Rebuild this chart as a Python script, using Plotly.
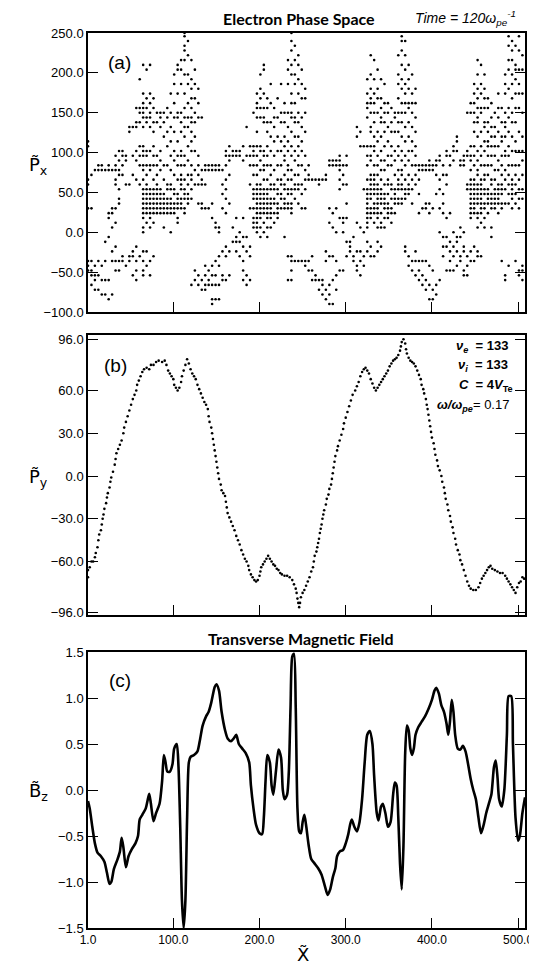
import plotly.graph_objects as go

# ---------------- Panel (a): electron phase space (x, P_x) ----------------
a_cols_x = [1, 5, 9, 13, 17, 21, 25, 29, 33, 37, 41, 45, 49, 53, 57, 61,
            65, 69, 73, 77, 81, 85, 89, 93, 97, 101, 105, 109, 113, 117, 121, 125, 129,
            133, 137, 141, 145, 149, 153, 157, 161, 165, 169, 173, 177, 181, 185, 189,
            193, 197, 201, 205, 209, 213, 217, 221, 225, 229, 233, 237, 241, 245, 249, 253,
            257, 261, 265, 269, 273, 277, 281, 285, 289, 293, 297, 301, 305, 309, 313, 317, 321,
            325, 329, 333, 337, 341, 345, 349, 353, 357, 361, 365, 369, 373, 377, 381,
            385, 389, 393, 397, 401, 405, 409, 413, 417, 421, 425, 429, 433, 437, 441,
            445, 449, 453, 457, 461, 465, 469, 473, 477, 481, 485, 489, 493, 497, 501, 505]
a_cols_y = [
    [114, 108, 66, 60, 30, -36, -42, -48],
    [72, 30, -36, -48, -54, -66],
    [78, -42, -54, -60, -72],
    [84, 78, -36, -54, -72],
    [84, 78, -42, -60, -78],
    [78, -12, -36, -60, -78],
    [84, 78, 24, 18, -6, -60, -84],
    [78, 30, 24, 6, -24, -36, -78],
    [96, 84, 78, 66, 60, 30, 12, -18, -36, -48],
    [102, 90, 78, 72, 54, 42, 36, -36, -48],
    [96, 102, 84, 72, -30, -36],
    [96, 90, 60, -42],
    [132, 126, 60, -36, -30],
    [132, 96, 72, -30, -24, -54],
    [156, 138, 132, 102, 90, 66, -18, -36, -48, -60],
    [192, 156, 150, 138, 108, 96, 84, 60, -30],
    [210, 174, 162, 156, 150, 144, 132, 108, 102, 96, 84, 78, 66, 54, 48, 42, 36, 30, 24, 18, 6, 0, -24, -36, -48, -54],
    [204, 168, 156, 144, 138, 102, 96, 84, 72, 60, 54, 48, 42, 36, 30, 24, 12, -24, -42],
    [210, 174, 162, 150, 144, 132, 102, 84, 78, 54, 48, 42, 36, 30, 24, 18, 6, -36, -54],
    [168, 156, 138, 126, 108, 96, 84, 66, 54, 48, 42, 36, 30, 24, 12, -30],
    [150, 138, 96, 84, 72, 60, 54, 48, 42, 36, 30, 24],
    [150, 144, 132, 102, 90, 78, 54, 48, 42, 36, 30, 24],
    [150, 138, 120, 84, 66, 48, 42, 36, 30, 24, 6],
    [156, 144, 126, 108, 84, 60, 54, 42, 36, 30, 24],
    [174, 150, 132, 114, 96, 78, 60, 54, 42, 36, 30, 24, 0],
    [198, 186, 162, 144, 126, 102, 90, 72, 54, 48, 36, 30, 24],
    [210, 204, 174, 150, 144, 114, 96, 84, 66, 48, 42, 36, 30, 18, 12],
    [216, 204, 186, 150, 138, 126, 102, 96, 84, 72, 66, 60, 54, 42, 36, 30],
    [250, 246, 234, 228, 216, 198, 174, 156, 144, 132, 120, 96, 84, 66, 54, 48, 42, 30, 24],
    [240, 222, 198, 186, 162, 144, 132, 108, 90, 72, 60, 48, 42, 36],
    [216, 192, 180, 168, 156, 144, 138, 126, 114, 102, 84, 72, 66, 54, 42, -66],
    [204, 186, 168, 150, 138, 120, 102, 78, 60, -60, -48],
    [180, 162, 144, 96, 84, 72, 60, 36, -54, -66],
    [144, 78, 66, 60, 36, 30, -60, -72],
    [84, 78, 60, 30, -42, -54, -66, -72],
    [84, 78, 30, -48, -60, -66],
    [84, 78, 36, 18, -42, -54, -66, -84, -90],
    [84, 78, 12, 6, -36, -54, -66, -84],
    [84, 78, 6, 0, -30, -42, -66, -84],
    [78, 60, 48, 30, -24, -54, -60],
    [102, 96, 84, 66, 54, 42, 24, -18, -30, -60],
    [108, 96, 90, 72, 36, -24, -54],
    [102, 96, 6, -12],
    [102, 96, 18, -6, -12, -24],
    [102, 96, 0, -12, -30],
    [108, 90, 18, -6, -18, -36, -48, -60],
    [132, 96, -6, -24, -54, -66],
    [108, 96, 84, 60, 30, -18, -30, -60],
    [150, 108, 102, 96, 84, 72, 54, 48, 42, 30, 18, 12, 6],
    [174, 162, 156, 144, 126, 108, 96, 84, 72, 60, 54, 48, 42, 36, 30, 24, 18, 12, 6, 0],
    [198, 180, 168, 156, 144, 108, 102, 90, 78, 60, 54, 48, 42, 36, 30, 24, 18, 6, -6],
    [210, 204, 174, 156, 144, 138, 102, 96, 84, 78, 66, 54, 48, 42, 36, 30, 24, 12, 0],
    [168, 156, 138, 126, 108, 96, 84, 66, 54, 48, 42, 36, 30, 24, 18, 6, -6],
    [186, 162, 138, 120, 102, 84, 72, 60, 54, 42, 36, 30, 24, 18, 6],
    [156, 144, 132, 114, 96, 78, 60, 54, 42, 36, 24, 12],
    [168, 144, 120, 102, 84, 66, 54, 48, 36, 30, 24, 18],
    [186, 150, 138, 114, 102, 84, 66, 60, 48, 42, 30],
    [162, 150, 138, 120, 108, 96, 90, 72, 60, 54, 42, 36, 30, -6],
    [216, 204, 186, 150, 132, 114, 102, 84, 78, 66, 54, 48, 36, 30, -30, -60],
    [250, 240, 228, 210, 198, 174, 162, 150, 144, 126, 108, 96, 78, 66, 54, 48, 36, 30, 24, -30, -36, -48, -60],
    [234, 216, 198, 186, 162, 144, 138, 120, 102, 90, 72, 60, 54, 42, -36],
    [222, 210, 192, 174, 150, 138, 120, 108, 96, 84, 72, 60, 54, 36, -36],
    [204, 186, 168, 144, 132, 114, 102, 84, 60, 48, 30, -36],
    [180, 168, 150, 126, 96, 78, 66, 54, 30, -36, -42],
    [84, 72, 66, -36, -48],
    [66, -30, -48, -60],
    [66, -54, -60],
    [66, 60, -60, -72],
    [66, -60, -66, -78],
    [72, 66, -24, -36, -72, -84],
    [90, 84, 30, 12, -30, -66, -78, -90],
    [90, 84, 24, 6, -30, -60, -90],
    [90, 84, 30, 0, -36, -54, -72],
    [96, 90, 84, 78, 66, 54, 18, -48],
    [84, 72, 60, 18, 12, 0, -48],
    [96, 84, 60, 36, 18, -12, -30],
    [-12, -18, -24],
    [-6, -30, -36],
    [132, 120, 12, -24, -42, -48],
    [126, 108, 6, -24, -36, -54],
    [108, 54, 0, -30, -42],
    [192, 174, 162, 156, 144, 108, 96, 84, 66, 54, 48, 42, 36, 30, 24, 18, 12, 6, -12, -24],
    [222, 198, 180, 168, 162, 150, 132, 126, 108, 96, 90, 72, 66, 60, 54, 48, 42, 30, 24, 18, -18, -30],
    [216, 192, 174, 162, 150, 138, 120, 108, 102, 84, 72, 66, 60, 54, 48, 36, 30, 24, 12, -30],
    [204, 180, 168, 150, 126, 114, 96, 84, 72, 60, 54, 48, 42, 36, 30, 24, 18, 6, -12, -24],
    [192, 168, 156, 144, 138, 120, 102, 90, 78, 66, 54, 48, 42, 36, 24, 12, 6, -18],
    [186, 162, 150, 138, 126, 108, 90, 78, 60, 48, 42, 36, 30, 18, 6],
    [162, 150, 132, 114, 96, 84, 66, 60, 48, 36, 30, 24, 18],
    [156, 138, 126, 108, 96, 84, 60, 54, 42, 30, 24, 12],
    [150, 144, 126, 102, 90, 72, 54, 48, 42, 36, 24],
    [222, 198, 186, 168, 150, 138, 126, 108, 96, 78, 66, 60, 54, 42, 36],
    [246, 240, 228, 210, 192, 180, 162, 150, 138, 120, 102, 90, 78, 72, 60, 54, 42, 36],
    [240, 222, 204, 186, 174, 162, 150, 132, 114, 96, 84, 66, 54, 48, 42, -18, -24],
    [210, 192, 180, 162, 156, 138, 120, 102, 90, 72, 60, 54, 48, -30, -42],
    [198, 174, 162, 150, 132, 114, 102, 84, 66, 54, 36, -36, -48],
    [180, 162, 144, 126, 108, 96, 84, 72, 60, -24, -36, -54],
    [84, 78, 66, 48, 24, -36, -48, -60],
    [84, 78, 30, -36, -54, -66],
    [84, 78, 36, 30, -36, -60, -72],
    [90, 84, 78, 36, 24, -42, -66, -84],
    [84, 78, 30, -48, -72, -84],
    [90, 84, 72, 48, -66, -78],
    [96, 90, 66, 54, 30, 0, -60],
    [84, 72, 48, 36, 24, -6, -18, -30],
    [102, 96, 72, 60, 18, -6, -18, -48],
    [96, 84, 24, -12, -24, -36, -48],
    [108, 102, 90, 0, -18, -30, -48],
    [120, 114, 102, -6, -12, -24, -42],
    [90, 84, 6, -6, -30, -36],
    [96, 90, 84, 0, -18, -24, -48, -54],
    [150, 102, 96, 60, 54, -30, -42, -54],
    [162, 150, 108, 96, 90, 78, 66, 60, 54, 48, 42, 36, 30, 24, 18, -24, -36],
    [186, 174, 162, 150, 138, 126, 108, 96, 84, 66, 60, 54, 48, 42, 36, 30, 24, -18, -36],
    [216, 198, 180, 168, 156, 144, 138, 120, 102, 90, 78, 72, 60, 54, 48, 42, 36, 24, 18, 6, -24, -30],
    [210, 186, 174, 156, 150, 126, 108, 96, 84, 66, 60, 54, 48, 42, 36, 30, 24, 12, -30],
    [198, 180, 168, 156, 138, 132, 114, 102, 84, 72, 66, 54, 48, 36, 30, 18, 6],
    [168, 156, 138, 126, 114, 108, 96, 84, 72, 54, 48, 42, 36, 24],
    [162, 144, 132, 120, 108, 96, 84, 66, 60, 48, 42, 36, 30, 6, -6],
    [150, 132, 120, 108, 96, 78, 66, 54, 48, 42, 36, 30],
    [174, 156, 144, 126, 108, 90, 78, 60, 54, 48, 42, 36, 24],
    [156, 138, 120, 114, 96, 84, 72, 60, 54, 48, 36, 30, -36],
    [198, 186, 174, 150, 138, 132, 120, 102, 96, 78, 66, 54, 36, -54, -60],
    [246, 234, 216, 204, 180, 156, 144, 126, 108, 96, 84, 72, 60, 48, 36, -42],
    [240, 228, 216, 198, 186, 168, 150, 138, 120, 102, 84, 66, 60, 54, 48, 42, 30],
    [234, 210, 204, 192, 174, 156, 138, 114, 102, 84, 72, 60, 48, 36, -36],
    [246, 228, 204, 186, 174, 156, 126, 102, 84, 66, 54, 42, 30, -48, -54],
    [222, 204, 174, 150, 120, 102, 90, 72, 54, 42, -42, -48, -60],
]

# ---------------- Panel (b): P_y ----------------
b_x = [1, 1, 3, 5, 7, 9, 10, 12, 13, 14, 16, 17, 18, 19, 20, 22, 23, 24, 26, 27, 28,
       30, 32, 33, 34, 36, 38, 40, 42, 43, 45, 47, 49, 51, 53, 55, 57, 58, 60, 62, 64,
       66, 69, 72, 74, 77, 80, 83, 87, 90, 92, 94, 96, 98, 100, 101, 103, 105, 107, 109, 110,
       112, 114, 116, 118, 120, 122, 124, 126, 128, 130, 132, 134, 136, 138, 140, 141, 142, 144,
       145, 146, 147, 148, 149, 150, 151, 152, 153, 155, 156, 158, 160, 161, 162, 163, 165, 167,
       169, 171, 173, 175, 177, 179, 181, 183, 185, 187, 188, 190, 192, 194, 196, 198, 200, 201,
       202, 204, 206, 208, 210, 212, 214, 216, 218, 220, 222, 224, 226, 229, 232, 235, 238, 240,
       242, 243, 244, 245, 246, 247, 248, 250, 252, 254, 256, 258, 260, 262, 263, 264, 266, 267,
       268, 269, 270, 271, 272, 273, 274, 275, 277, 278, 280, 281, 283, 284, 285, 286, 287, 288,
       290, 291, 293, 295, 297, 298, 300, 302, 304, 306, 308, 311, 313, 315, 317, 319, 321, 323,
       325, 327, 329, 331, 333, 335, 337, 339, 341, 343, 345, 347, 349, 351, 353, 355, 357, 359,
       361, 363, 364, 365, 367, 369, 370, 371, 373, 375, 377, 379, 381, 383, 385, 387, 388, 390,
       391, 393, 394, 395, 396, 397, 398, 399, 400, 402, 403, 404, 406, 407, 409, 411, 412, 414,
       415, 416, 418, 419, 421, 422, 424, 425, 427, 428, 430, 432, 433, 435, 437, 439, 441, 443,
       445, 448, 451, 454, 456, 458, 460, 462, 464, 466, 468, 470, 473, 476, 479, 482, 485, 487,
       489, 491, 493, 495, 497, 499, 501, 503, 505, 507]
b_y = [-71, -66, -64, -60, -60, -57, -54, -50, -45, -41, -38, -34, -30, -27, -23, -19, -15, -12, -8, -4, -1,
       3, 8, 12, 16, 19, 22, 25, 30, 34, 38, 42, 46, 50, 54, 57, 60, 64, 67, 70, 73,
       75, 76, 75, 78, 78, 80, 81, 80, 81, 78, 74, 72, 70, 68, 64, 62, 60, 62, 66, 70,
       74, 78, 82, 79, 75, 72, 70, 68, 64, 61, 58, 55, 52, 50, 47, 42, 38, 34,
       30, 26, 22, 18, 14, 10, 6, 2, -2, -6, -10, -12, -14, -18, -22, -26, -29, -32,
       -35, -38, -42, -45, -48, -52, -55, -58, -60, -63, -66, -69, -71, -73, -74, -73, -70, -67,
       -64, -62, -60, -58, -56, -58, -60, -62, -63, -65, -66, -68, -69, -70, -70, -71, -73, -76,
       -79, -82, -86, -89, -92, -89, -85, -82, -80, -77, -74, -71, -67, -64, -60, -56, -53, -50,
       -47, -44, -40, -37, -34, -30, -27, -24, -20, -16, -13, -9, -6, -2, 2, 6, 10, 14,
       18, 21, 25, 29, 33, 37, 41, 45, 49, 53, 57, 60, 63, 66, 70, 73, 75, 76,
       74, 72, 68, 65, 62, 60, 62, 64, 66, 68, 70, 72, 74, 77, 79, 81, 82, 83,
       85, 88, 91, 94, 96, 93, 89, 86, 83, 81, 80, 79, 77, 74, 71, 68, 64, 61,
       58, 54, 50, 47, 43, 39, 35, 31, 27, 23, 19, 15, 11, 7, 4, 0, -4, -8,
       -12, -16, -20, -24, -28, -32, -36, -40, -44, -48, -52, -55, -59, -62, -66, -70, -74, -77,
       -79, -80, -80, -78, -75, -72, -70, -68, -66, -64, -63, -65, -66, -67, -68, -68, -70, -72,
       -74, -76, -78, -80, -82, -78, -75, -74, -71, -72]

# ---------------- Panel (c): B_z ----------------
c_x = [1, 3, 6, 9, 12, 16, 20, 23, 26, 28, 31, 35, 38, 40, 42, 45, 48, 52, 56, 59, 61, 64, 68, 70,
       72, 74, 77, 80, 84, 87, 89, 91, 93, 96, 99, 101, 104, 106, 108, 110, 112, 114, 116, 118,
       120, 124, 128, 131, 134, 138, 141, 144, 148, 150, 153, 156, 160, 163, 167, 170, 173, 176,
       180, 184, 188, 190, 193, 196, 200, 203, 205, 207, 209, 212, 214, 216, 219, 222, 225, 227,
       229, 232, 234, 236, 238, 240, 242, 244, 246, 248, 250, 252, 254, 257, 260, 264, 268, 272,
       276, 279, 282, 285, 288, 290, 293, 297, 300, 303, 305, 307, 310, 313, 316, 319, 322, 325,
       328, 331, 333, 336, 338, 341, 343, 346, 349, 352, 355, 357, 359, 361, 363, 365, 367, 369,
       371, 373, 375, 377, 379, 381, 384, 388, 392, 396, 400, 403, 405, 408, 411, 414, 417, 419,
       421, 423, 425, 427, 430, 433, 436, 439, 442, 445, 448, 451, 454, 457, 460, 463, 466, 469,
       472, 474, 476, 478, 481, 484, 487, 489, 492, 494, 497, 500, 502, 505, 508]
c_y = [-0.12, -0.2, -0.4, -0.58, -0.68, -0.72, -0.78, -0.9, -1.02, -1.0, -0.86, -0.76, -0.67, -0.52,
       -0.62, -0.84, -0.72, -0.64, -0.58, -0.5, -0.32, -0.27, -0.2, -0.12, -0.04, -0.15, -0.34, -0.25,
       -0.15, 0.1, 0.38, 0.3, 0.2, 0.2, 0.28, 0.45, 0.5, 0.25, -0.4, -1.2, -1.5, -1.2, -0.3, 0.3,
       0.36, 0.38, 0.42, 0.55, 0.7, 0.8, 0.85, 0.95, 1.12, 1.15, 1.08, 0.85, 0.65, 0.56, 0.53, 0.56,
       0.6, 0.5, 0.45, 0.4, 0.3, 0.05, -0.2, -0.38, -0.47, -0.48, -0.3, 0.1, 0.38, 0.3, 0.05, -0.05,
       0.2, 0.44, 0.35, 0.0, -0.1, -0.05, 0.2, 0.9, 1.45, 1.48, 0.9, -0.2, -0.45, -0.47, -0.35, -0.27,
       -0.38, -0.6, -0.75, -0.8, -0.85, -0.92, -1.05, -1.14, -1.08, -0.95, -0.85, -0.72, -0.67, -0.65,
       -0.58, -0.48, -0.38, -0.32, -0.4, -0.45, -0.35, -0.1, 0.3, 0.6, 0.64, 0.5, 0.15, -0.25, -0.33,
       -0.18, -0.15, -0.25, -0.4, -0.35, -0.05, 0.08, 0.05, -0.3, -0.8, -1.08, -0.6, 0.4, 0.7, 0.65,
       0.45, 0.38, 0.45, 0.6, 0.68, 0.74, 0.8, 0.88, 0.98, 1.08, 1.11, 1.05, 0.92, 0.85, 0.72, 0.6,
       0.75, 0.98, 0.85, 0.6, 0.45, 0.44, 0.48, 0.42, 0.28, 0.12, 0.0, -0.1, -0.3, -0.47, -0.38, -0.25,
       -0.15, -0.05, 0.25, 0.32, 0.15, -0.1, -0.18, 0.0, 0.6, 1.02, 1.02, 0.5, -0.3, -0.55, -0.5,
       -0.25, -0.08]

# ---------------- tick values ----------------
x_ticks = [1, 100, 200, 300, 400, 500]
x_ticktext = ["1.0", "100.0", "200.0", "300.0", "400.0", "500.0"]
a_ticks = [-100, -50, 0, 50, 100, 150, 200, 250]
b_ticks = [-96, -60, -30, 0, 30, 60, 96]
c_ticks = [-1.5, -1.0, -0.5, 0.0, 0.5, 1.0, 1.5]

# expand columns of panel (a)
a_x, a_y = [], []
for cx, ys in zip(a_cols_x, a_cols_y):
    for v in ys:
        a_x.append(cx)
        a_y.append(v)

W, H = 537, 969
L, R, T, B = 80, 15, 25, 49
PW, PH = W - L - R, H - T - B


def px(xp):
    return (xp - L) / PW


def py(yp):
    return (H - B - yp) / PH


fig = go.Figure()
fig.add_trace(go.Scatter(x=a_x, y=a_y, mode="markers", xaxis="x", yaxis="y",
                         marker=dict(size=2.6, color="black", symbol="circle"),
                         showlegend=False, hoverinfo="skip"))
fig.add_trace(go.Scatter(x=b_x, y=b_y, mode="markers", xaxis="x2", yaxis="y2",
                         marker=dict(size=2.6, color="black", symbol="circle"),
                         showlegend=False, hoverinfo="skip"))
fig.add_trace(go.Scatter(x=c_x, y=c_y, mode="lines", xaxis="x3", yaxis="y3",
                         line=dict(color="black", width=2.6, shape="spline", smoothing=0.7),
                         showlegend=False, hoverinfo="skip"))

tickfont = dict(family="Liberation Sans, Arial, sans-serif", size=13, color="black")
xtickfont = dict(family="Liberation Sans, Arial, sans-serif", size=12, color="black")
common_x = dict(range=[1, 508], showgrid=False, zeroline=False, showline=True, linecolor="black",
                linewidth=1.5, mirror=True, ticks="inside", ticklen=10, tickwidth=1.2,
                tickcolor="black", tickvals=x_ticks, ticktext=x_ticktext, tickfont=xtickfont)
common_y = dict(showgrid=False, zeroline=False, showline=True, linecolor="black", linewidth=1.5,
                mirror="ticks", ticks="inside", ticklen=10, tickwidth=1.2, tickcolor="black",
                tickfont=tickfont, tickformat=".1f")

d_a = [py(304), py(25)]
d_b = [py(607), py(327)]
d_c = [py(920), py(644)]

fig.update_layout(
    width=W, height=H, margin=dict(l=L, r=R, t=T, b=B),
    paper_bgcolor="white", plot_bgcolor="white",
    xaxis=dict(common_x, anchor="y", showticklabels=False),
    yaxis=dict(common_y, domain=d_a, range=[-100, 250], tickvals=a_ticks, anchor="x"),
    xaxis2=dict(common_x, anchor="y2", showticklabels=False),
    yaxis2=dict(common_y, domain=d_b, range=[-97.5, 99], tickvals=b_ticks, anchor="x2"),
    xaxis3=dict(common_x, anchor="y3", showticklabels=True),
    yaxis3=dict(common_y, domain=d_c, range=[-1.5, 1.5], tickvals=c_ticks, anchor="x3"),
)

title_font = dict(family="Lato, Liberation Sans, sans-serif", size=16, color="black")
label_font = dict(family="Liberation Sans, Arial, sans-serif", size=19, color="black")
ann = []


def add(text, xp, yp, font, xanchor="center", yanchor="middle"):
    ann.append(dict(text=text, x=px(xp), y=py(yp), xref="paper", yref="paper",
                    showarrow=False, font=font, xanchor=xanchor, yanchor=yanchor))


add("<b>Electron Phase Space</b>", 293, 10, title_font)
add("<i>Time = 120ω<sub>pe</sub><sup>-1</sup></i>", 462, 10,
    dict(family="Liberation Sans, sans-serif", size=14, color="black"))
add("<b>Transverse Magnetic Field</b>", 295, 630, title_font)
add("(a)", 112, 55, label_font)
add("(b)", 108, 357, label_font)
add("(c)", 112, 672, label_font)
axlab = dict(family="DejaVu Sans, sans-serif", size=18, color="black")
add("P\u0303<sub>x</sub>", 30, 158, axlab)
add("P\u0303<sub>y</sub>", 30, 470, axlab)
add("B\u0303<sub>z</sub>", 30, 784, axlab)
add("X\u0303", 297, 946, axlab)
pf = dict(family="Liberation Sans, sans-serif", size=13, color="black")
add("<b><i>ν<sub>e</sub></i>  = 133</b>", 507, 338, pf, xanchor="right")
add("<b><i>ν<sub>i</sub></i>  = 133</b>", 507, 357, pf, xanchor="right")
add("<b><i>C</i>  = 4<i>V</i><sub>Te</sub></b>", 512, 377, pf, xanchor="right")
add("<b><i>ω/ω<sub>pe</sub></i></b>= 0.17", 508, 397, pf, xanchor="right")

fig.update_layout(annotations=ann)
fig.write_html("out.html")
